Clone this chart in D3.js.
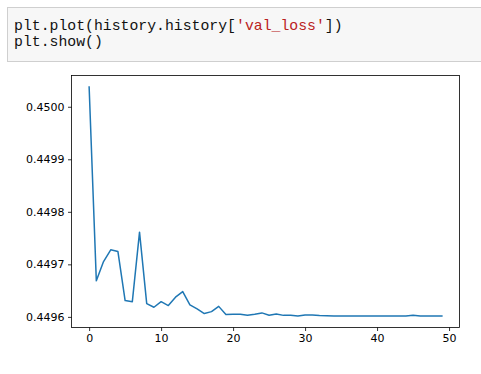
<!DOCTYPE html>
<html><head><meta charset="utf-8">
<script src="https://cdn.jsdelivr.net/npm/d3@7"></script>
<style>
html,body{margin:0;padding:0;background:#fff;}
svg{display:block;}
</style></head>
<body>
<svg id="c" width="481" height="374"></svg>
<script>
const epochs = d3.range(50);
const valLoss = [
 0.4500377, 0.4496686, 0.4497053, 0.4497276, 0.4497244, 0.4496310, 0.4496290, 0.4497613, 0.4496253, 0.4496184,
 0.4496290, 0.4496216, 0.4496375, 0.4496482, 0.4496229, 0.4496152, 0.4496063, 0.4496100, 0.4496200, 0.4496044,
 0.4496051, 0.4496051, 0.4496032, 0.4496051, 0.4496076, 0.4496032, 0.4496057, 0.4496029, 0.4496032, 0.4496019,
 0.4496038, 0.4496034, 0.4496025, 0.4496020, 0.4496017, 0.4496016, 0.4496016, 0.4496016, 0.4496016, 0.4496016,
 0.4496016, 0.4496016, 0.4496016, 0.4496016, 0.4496017, 0.4496032, 0.4496018, 0.4496016, 0.4496016, 0.4496016
];
const xTicks = [0, 10, 20, 30, 40, 50];
const yTicks = [0.4496, 0.4497, 0.4498, 0.4499, 0.4500];
const codeLine1 = ["plt.plot(history.history[", "'val_loss'", "])"];
const codeLine2 = "plt.show()";

const svg = d3.select("#c");

// code cell
svg.append("rect").attr("x", 7.5).attr("y", 7.5).attr("width", 490).attr("height", 54)
  .attr("fill", "#f7f7f7").attr("stroke", "#cfcfcf").attr("stroke-width", 1);
const mono = "'Liberation Mono','DejaVu Sans Mono',monospace";
const t1 = svg.append("text").attr("x", 14).attr("y", 29.5)
  .attr("font-family", mono).attr("font-size", "14.8px").attr("fill", "#111");
t1.append("tspan").text(codeLine1[0]);
t1.append("tspan").attr("fill", "#ba2121").text(codeLine1[1]);
t1.append("tspan").text(codeLine1[2]);
svg.append("text").attr("x", 14).attr("y", 45.5)
  .attr("font-family", mono).attr("font-size", "14.8px").attr("fill", "#111").text(codeLine2);

// plot area
const L = 71.5, R = 459.5, T = 75.5, B = 327.5;
const xmin = d3.min(epochs), xmax = d3.max(epochs);
const xpad = (xmax - xmin) * 0.05;
const ymin = d3.min(valLoss), ymax = d3.max(valLoss);
const ypad = (ymax - ymin) * 0.05;
const x = d3.scaleLinear().domain([xmin - xpad, xmax + xpad]).range([L, R]);
const y = d3.scaleLinear().domain([ymin - ypad, ymax + ypad]).range([B, T]);

const font = "'DejaVu Sans', sans-serif";
const xAxis = d3.axisBottom(x).tickValues(xTicks).tickSize(3.5).tickPadding(3.5).tickFormat(d3.format("d"));
const yAxis = d3.axisLeft(y).tickValues(yTicks).tickSize(3.5).tickPadding(3.5).tickFormat(d3.format(".4f"));

const gx = svg.append("g").attr("transform", `translate(0,${B})`).call(xAxis);
const gy = svg.append("g").attr("transform", `translate(${L},0)`).call(yAxis);
[gx, gy].forEach(g => {
  g.select(".domain").remove();
  g.selectAll(".tick line").attr("stroke", "#000").attr("stroke-width", 0.8);
  g.selectAll(".tick text").attr("fill", "#000").attr("font-family", font).attr("font-size", "11px");
});

// line
const line = d3.line().x((d, i) => x(epochs[i])).y(d => y(d));
svg.append("path").datum(valLoss).attr("d", line)
  .attr("fill", "none").attr("stroke", "#1f77b4").attr("stroke-width", 1.5)
  .attr("stroke-linejoin", "round").attr("stroke-linecap", "square");

// spines
svg.append("rect").attr("x", L).attr("y", T).attr("width", R - L).attr("height", B - T)
  .attr("fill", "none").attr("stroke", "#000").attr("stroke-width", 0.8);
</script>
</body></html>
